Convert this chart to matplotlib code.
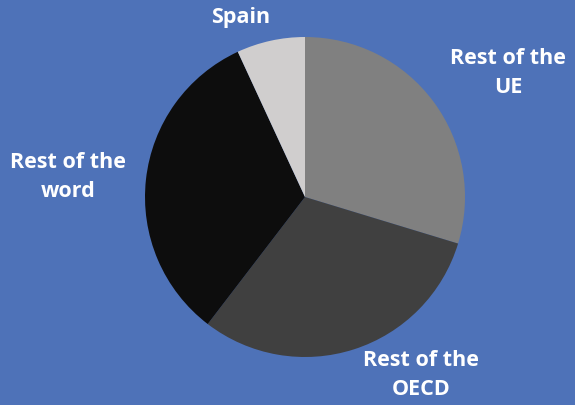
import matplotlib.pyplot as plt

labels = ["Rest of the\nUE", "Rest of the\nOECD", "Rest of the\nword", "Spain"]
values = [29.7, 30.7, 32.7, 6.9]
colors = ["#808080", "#404040", "#0d0d0d", "#d0cece"]

# label positions in pixels (x, y from top)
label_pos = [(508, 73), (421, 375), (68, 177), (241, 17)]

W, H = 575, 406
fig = plt.figure(figsize=(W / 100, H / 100), dpi=100)
fig.patch.set_facecolor("#4e72b8")

ax = fig.add_axes([145 / W, (H - 358) / H, 320 / W, 320 / H])
ax.pie(values, colors=colors, startangle=90, counterclock=False, radius=1)
ax.set_xlim(-1, 1)
ax.set_ylim(-1, 1)
ax.set_aspect("equal")
ax.axis("off")

for lab, (px, py) in zip(labels, label_pos):
    fig.text(px / W, 1 - py / H, lab, ha="center", va="center", color="white",
             fontsize=15.5, fontweight="bold", family="Open Sans",
             multialignment="center", linespacing=1.45)

fig.savefig("out.png", dpi=100, facecolor=fig.get_facecolor())
